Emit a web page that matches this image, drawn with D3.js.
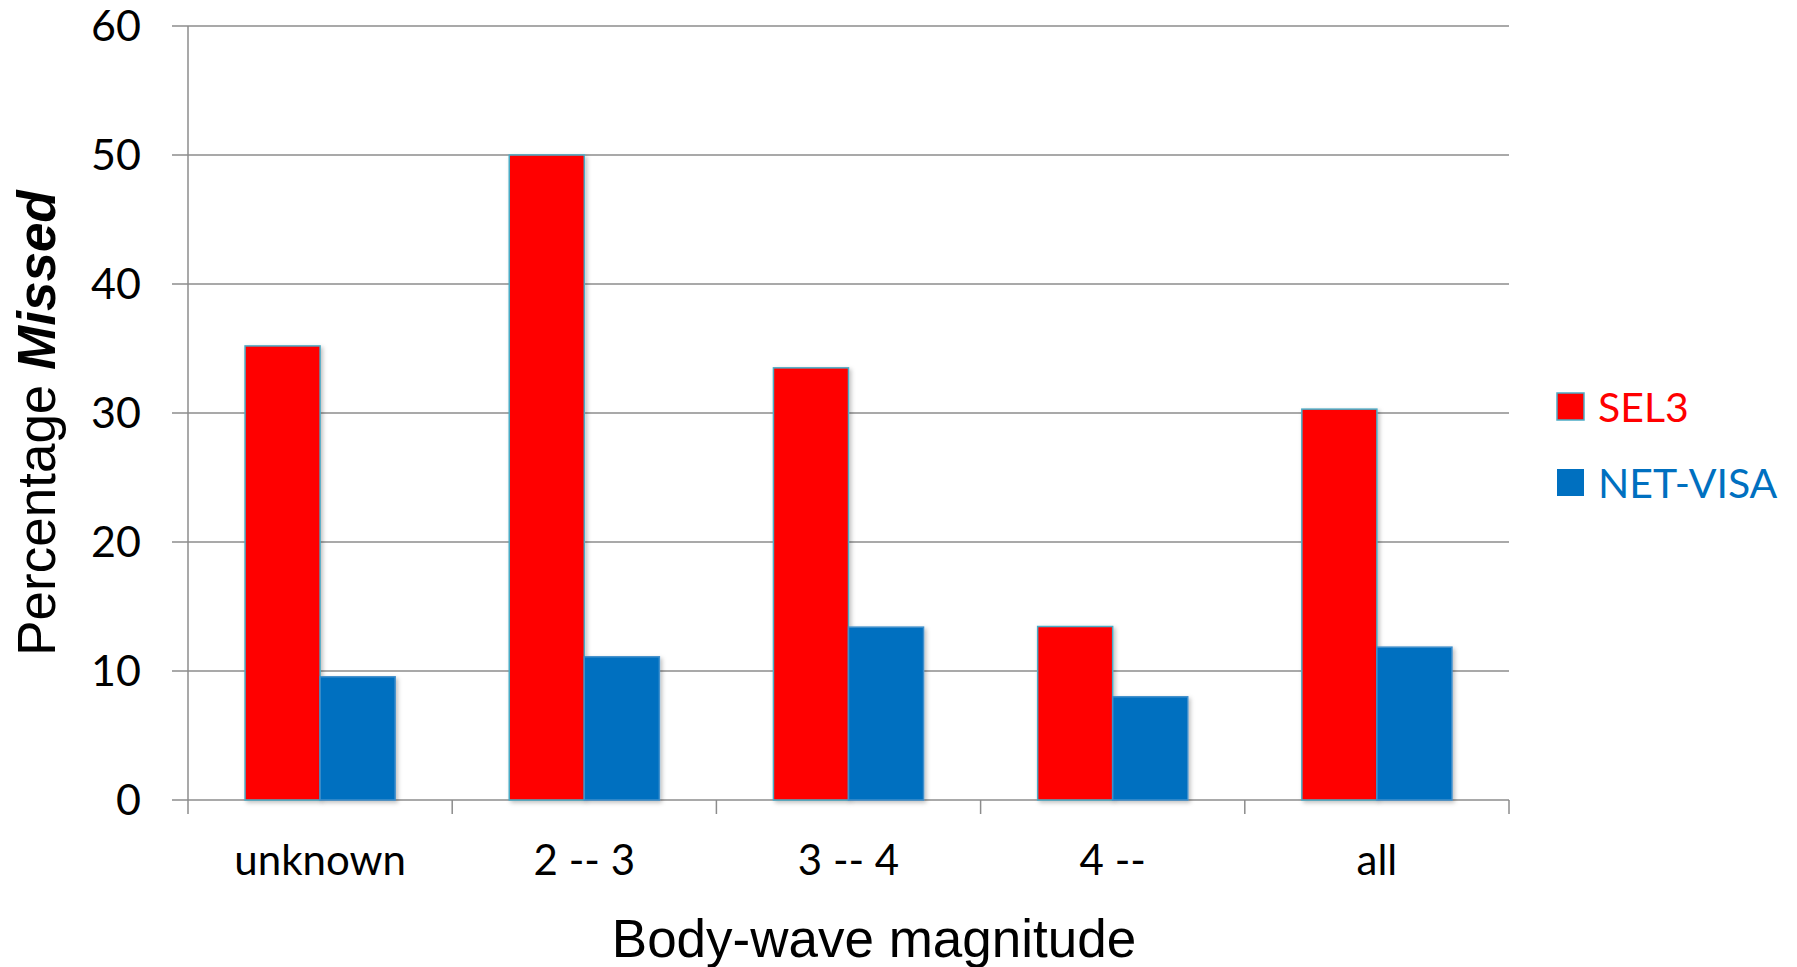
<!DOCTYPE html>
<html>
<head>
<meta charset="utf-8">
<script src="https://cdn.jsdelivr.net/npm/d3@7"></script>
<style>
  body { margin: 0; background: #fff; }
  svg { display: block; }
</style>
</head>
<body>
<div id="chart"></div>
<script>
// categories and series
const categories = ['unknown', '2 -- 3', '3 -- 4', '4 --', 'all'];
const seriesNames = ['SEL3', 'NET-VISA'];
const sel3 = [35.2, 50, 33.5, 13.45, 30.3];
const netVisa = [9.55, 11.1, 13.4, 8.0, 11.85];
const yTicks = [0, 10, 20, 30, 40, 50, 60];

const colors = { 'SEL3': '#ff0000', 'NET-VISA': '#0070c0' };
const strokes = { 'SEL3': '#4bacc6', 'NET-VISA': '#3f8fcc' };

const width = 1797, height = 967;
const plot = { left: 188, right: 1509, top: 26, bottom: 800 };

const svg = d3.select('#chart').append('svg')
    .attr('width', width).attr('height', height);

const defs = svg.append('defs');
const shadow = defs.append('filter').attr('id', 'shadow')
    .attr('x', '-10%').attr('y', '-10%').attr('width', '130%').attr('height', '130%');
shadow.append('feDropShadow').attr('dx', 2).attr('dy', 2).attr('stdDeviation', 2)
    .attr('flood-color', '#000').attr('flood-opacity', 0.25);

const x0 = d3.scaleBand().domain(categories).range([plot.left, plot.right]);
const x1 = d3.scaleBand().domain(seriesNames).range([0, x0.bandwidth()])
    .paddingInner(0).paddingOuter(0.76);
const y = d3.scaleLinear().domain([0, 60]).range([plot.bottom, plot.top]);

// grid lines + y ticks
svg.append('g').selectAll('line').data(yTicks).join('line')
    .attr('x1', plot.left - 16).attr('x2', plot.right)
    .attr('y1', d => y(d)).attr('y2', d => y(d))
    .attr('stroke', '#8c8c8c').attr('stroke-width', 1.5);

// y axis line
svg.append('line')
    .attr('x1', plot.left).attr('x2', plot.left)
    .attr('y1', plot.top).attr('y2', plot.bottom + 14)
    .attr('stroke', '#8c8c8c').attr('stroke-width', 1.5);

// category ticks
const catEdges = categories.map(c => x0(c)).slice(1).concat([plot.right]);
svg.append('g').selectAll('line').data(catEdges).join('line')
    .attr('x1', d => d).attr('x2', d => d)
    .attr('y1', plot.bottom).attr('y2', plot.bottom + 14)
    .attr('stroke', '#8c8c8c').attr('stroke-width', 1.5);

// y tick labels
svg.append('g').selectAll('text').data(yTicks).join('text')
    .attr('x', 141).attr('y', d => y(d))
    .attr('dy', '0.35em')
    .attr('text-anchor', 'end')
    .attr('font-family', 'Lato, "Open Sans", sans-serif')
    .attr('font-size', 43)
    .attr('fill', '#000')
    .text(d => d);

// x tick labels
svg.append('g').selectAll('text').data(categories).join('text')
    .attr('x', d => x0(d) + x0.bandwidth() / 2)
    .attr('y', 875)
    .attr('text-anchor', 'middle')
    .attr('font-family', 'Lato, "Open Sans", sans-serif')
    .attr('font-size', 42)
    .attr('fill', '#000')
    .text(d => d);

// bars
const rows = categories.map((c, i) => ({ cat: c, values: [
  { name: 'SEL3', value: sel3[i] },
  { name: 'NET-VISA', value: netVisa[i] }
] }));

const groups = svg.append('g').selectAll('g').data(rows).join('g')
    .attr('transform', d => `translate(${x0(d.cat)},0)`);

groups.selectAll('rect').data(d => d.values).join('rect')
    .attr('x', d => x1(d.name))
    .attr('y', d => y(d.value))
    .attr('width', x1.bandwidth())
    .attr('height', d => plot.bottom - y(d.value))
    .attr('fill', d => colors[d.name])
    .attr('stroke', d => strokes[d.name])
    .attr('stroke-width', 1.5)
    .attr('filter', 'url(#shadow)');

// axis titles
svg.append('text')
    .attr('transform', 'translate(55,423) rotate(-90)')
    .attr('text-anchor', 'middle')
    .attr('font-family', '"Liberation Sans", Arial, sans-serif')
    .attr('font-size', 53)
    .attr('fill', '#000')
    .call(t => {
      t.append('tspan').text('Percentage ');
      t.append('tspan').attr('font-weight', 'bold').attr('font-style', 'italic').text('Missed');
    });

svg.append('text')
    .attr('x', 874).attr('y', 957)
    .attr('text-anchor', 'middle')
    .attr('font-family', '"Liberation Sans", Arial, sans-serif')
    .attr('font-size', 53)
    .attr('fill', '#000')
    .text('Body-wave magnitude');

// legend
const legend = svg.append('g').selectAll('g').data(seriesNames).join('g')
    .attr('transform', (d, i) => `translate(1557,${393 + i * 76})`);

legend.append('rect')
    .attr('width', 27).attr('height', 27)
    .attr('fill', d => colors[d])
    .attr('stroke', d => d === 'SEL3' ? strokes[d] : 'none')
    .attr('stroke-width', 1.5);

legend.append('text')
    .attr('x', 41).attr('y', 14)
    .attr('dy', '0.36em')
    .attr('font-family', 'Lato, "Open Sans", sans-serif')
    .attr('font-size', 41)
    .attr('fill', d => colors[d])
    .text(d => d);
</script>
</body>
</html>
